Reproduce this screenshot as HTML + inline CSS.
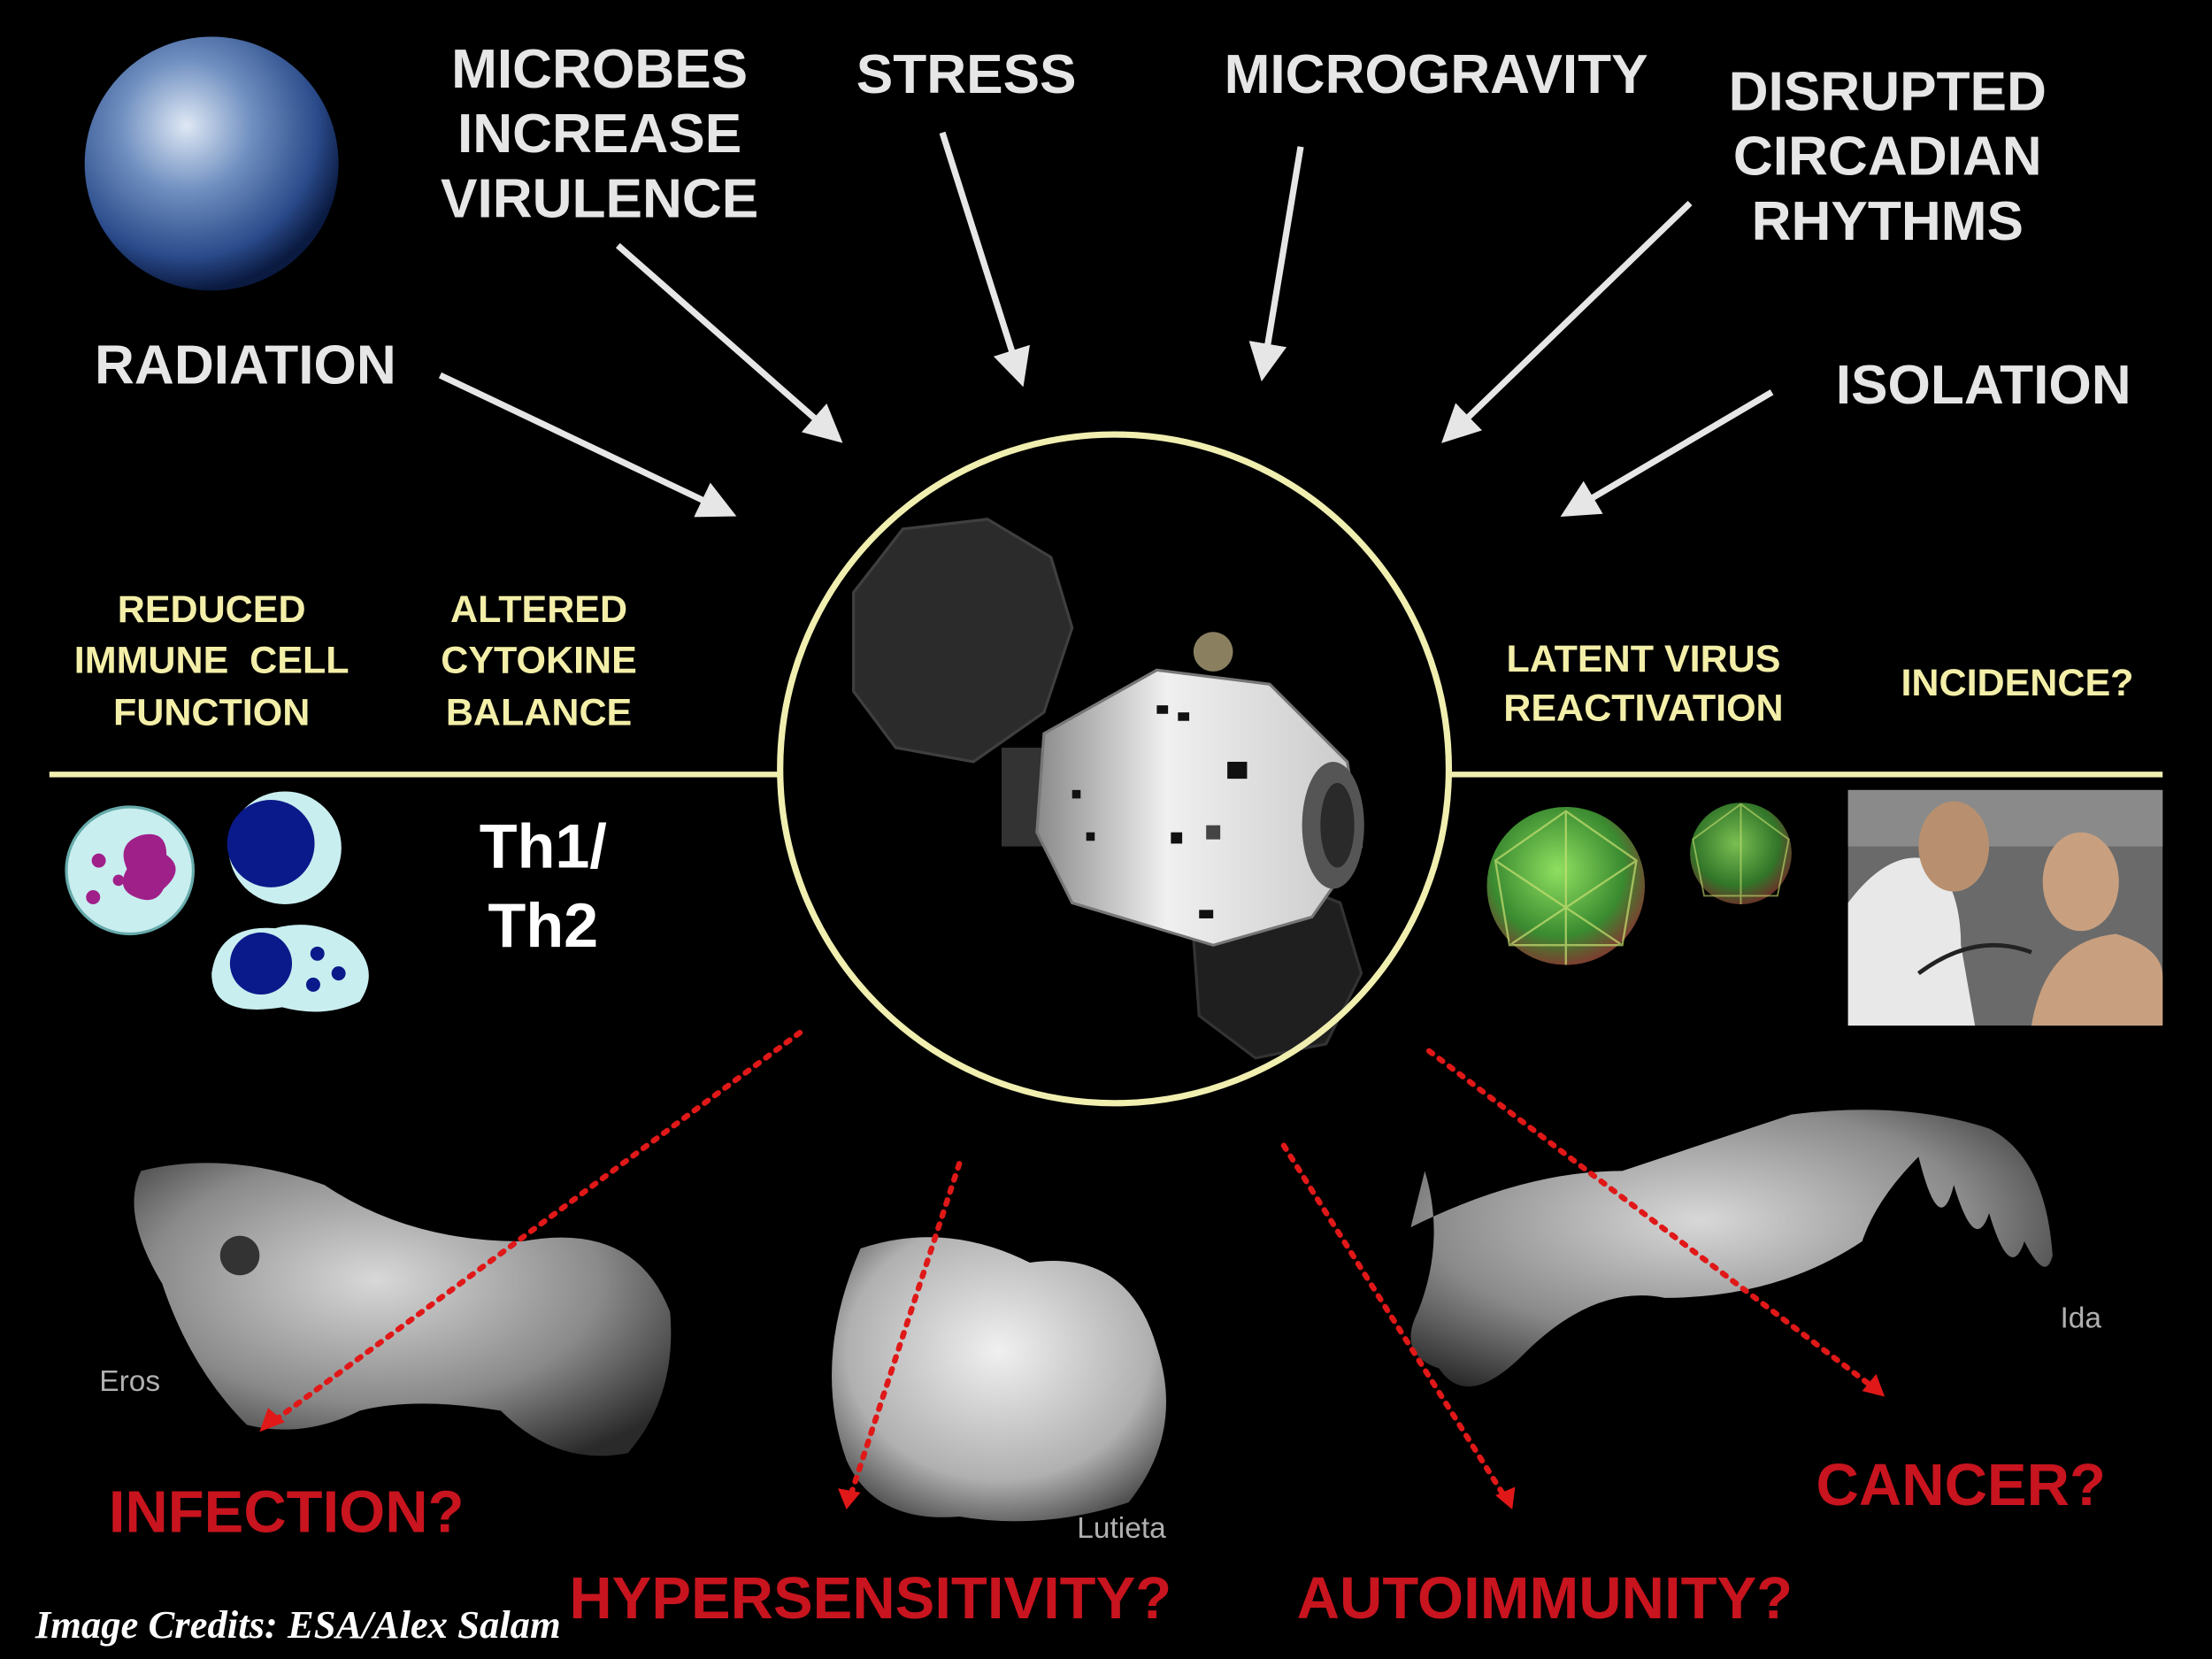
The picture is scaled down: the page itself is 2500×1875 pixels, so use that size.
<!DOCTYPE html>
<html><head><meta charset="utf-8">
<style>
html,body{margin:0;padding:0;background:#000;}
svg{display:block;}
.w{font-family:"Liberation Sans",sans-serif;font-weight:bold;fill:#e6e6e6;font-size:39px;text-anchor:middle;}
.y{font-family:"Liberation Sans",sans-serif;font-weight:bold;fill:#f4efa8;font-size:27px;text-anchor:middle;}
.r{font-family:"Liberation Sans",sans-serif;font-weight:bold;fill:#c8141e;font-size:42px;text-anchor:middle;}
.g{font-family:"Liberation Sans",sans-serif;fill:#b0b0b0;font-size:21px;text-anchor:middle;}
</style></head>
<body>
<svg width="2500" height="1875" viewBox="0 0 1568 1176" xmlns="http://www.w3.org/2000/svg">
<defs>
<radialGradient id="earth" cx="40%" cy="35%" r="65%">
<stop offset="0" stop-color="#dfe8f5"/><stop offset="0.4" stop-color="#6f8fc0"/><stop offset="0.8" stop-color="#2a4a8a"/><stop offset="1" stop-color="#0a1a40"/>
</radialGradient>
<radialGradient id="ast" cx="45%" cy="40%" r="70%">
<stop offset="0" stop-color="#d8d8d8"/><stop offset="0.6" stop-color="#8a8a8a"/><stop offset="1" stop-color="#2a2a2a"/>
</radialGradient>
<radialGradient id="ast2" cx="50%" cy="40%" r="65%">
<stop offset="0" stop-color="#f0f0f0"/><stop offset="0.7" stop-color="#b0b0b0"/><stop offset="1" stop-color="#505050"/>
</radialGradient>
<radialGradient id="vir" cx="45%" cy="40%" r="60%">
<stop offset="0" stop-color="#8fe060"/><stop offset="0.7" stop-color="#3a8a30"/><stop offset="1" stop-color="#7a4030"/>
</radialGradient>
<linearGradient id="ship" x1="0" y1="0" x2="1" y2="0">
<stop offset="0" stop-color="#8a8a8a"/><stop offset="0.4" stop-color="#f0f0f0"/><stop offset="1" stop-color="#c8c8c8"/>
</linearGradient>
<marker id="wa" markerWidth="6" markerHeight="6" refX="5" refY="3" orient="auto" markerUnits="strokeWidth">
<path d="M0,0 L6,3 L0,6 z" fill="#e6e6e6"/></marker>
</defs>
<rect width="1568" height="1176" fill="#000"/>

<circle cx="150" cy="116" r="90" fill="url(#earth)"/>

<text class="w" x="425" y="62">MICROBES</text>
<text class="w" x="425" y="108">INCREASE</text>
<text class="w" x="425" y="154">VIRULENCE</text>
<text class="w" x="685" y="66">STRESS</text>
<text class="w" x="1018" y="66">MICROGRAVITY</text>
<text class="w" x="1338" y="78">DISRUPTED</text>
<text class="w" x="1338" y="124">CIRCADIAN</text>
<text class="w" x="1338" y="170">RHYTHMS</text>
<text class="w" x="174" y="272">RADIATION</text>
<text class="w" x="1406" y="286">ISOLATION</text>

<g stroke="#e6e6e6" stroke-width="4.5" fill="none" marker-end="url(#wa)">
<line x1="312" y1="266" x2="518" y2="364"/>
<line x1="438" y1="174" x2="594" y2="311"/>
<line x1="668" y1="94" x2="724" y2="270"/>
<line x1="922" y1="104" x2="895" y2="266"/>
<line x1="1198" y1="144" x2="1025" y2="311"/>
<line x1="1256" y1="278" x2="1110" y2="364"/>
</g>

<line x1="35" y1="549" x2="553" y2="549" stroke="#f0efb0" stroke-width="4"/>
<line x1="1027" y1="549" x2="1533" y2="549" stroke="#f0efb0" stroke-width="4"/>

<g>
<polygon points="605,420 640,375 700,368 745,395 760,445 740,505 690,540 635,530 605,490" fill="#3a3a3a" stroke="#555" stroke-width="2" opacity="0.75"/>
<polygon points="845,650 900,620 950,640 965,690 940,740 890,750 850,720" fill="#2a2a2a" stroke="#444" stroke-width="2" opacity="0.75"/>
<ellipse cx="860" cy="462" rx="14" ry="14" fill="#8a8060"/>
<rect x="710" y="530" width="40" height="70" fill="#333"/>
<path d="M740,520 L820,475 L900,485 L955,540 L965,600 L930,650 L860,670 L760,640 L735,590 Z" fill="url(#ship)" stroke="#777" stroke-width="2"/>
<ellipse cx="945" cy="585" rx="22" ry="45" fill="#555"/>
<ellipse cx="948" cy="585" rx="12" ry="30" fill="#2a2a2a"/>
<g fill="#111"><rect x="820" y="500" width="8" height="6"/><rect x="835" y="505" width="8" height="6"/><rect x="870" y="540" width="14" height="12"/><rect x="830" y="590" width="8" height="8"/><rect x="850" y="645" width="10" height="6"/><rect x="760" y="560" width="6" height="6"/><rect x="770" y="590" width="6" height="6"/><rect x="855" y="585" width="10" height="10" fill="#444"/></g>
</g>
<circle cx="790" cy="545" r="237" fill="none" stroke="#f0efb0" stroke-width="4.5"/>

<text class="y" x="150" y="441">REDUCED</text>
<text class="y" x="150" y="477" xml:space="preserve">IMMUNE  CELL</text>
<text class="y" x="150" y="514">FUNCTION</text>
<text class="y" x="382" y="441">ALTERED</text>
<text class="y" x="382" y="477">CYTOKINE</text>
<text class="y" x="382" y="514">BALANCE</text>
<text class="y" x="1165" y="476">LATENT VIRUS</text>
<text class="y" x="1165" y="511">REACTIVATION</text>
<text class="y" x="1430" y="493">INCIDENCE?</text>

<text class="w" x="385" y="615" style="font-size:44px;fill:#fff">Th1/</text>
<text class="w" x="385" y="671" style="font-size:44px;fill:#fff">Th2</text>

<circle cx="92" cy="617" r="45" fill="#c9eef0" stroke="#6aa" stroke-width="2"/>
<path d="M100,592 q18,-4 18,14 q14,10 -2,24 q-6,12 -20,6 q-14,-6 -6,-20 q-8,-18 10,-24z" fill="#a0208a"/>
<circle cx="70" cy="610" r="5" fill="#a0208a"/><circle cx="66" cy="636" r="5" fill="#a0208a"/><circle cx="84" cy="624" r="4" fill="#a0208a"/>
<circle cx="202" cy="601" r="40" fill="#c9eef0"/>
<circle cx="192" cy="598" r="31" fill="#0a1a8a"/>
<path d="M150,690 q5,-35 45,-32 q30,-8 55,10 q20,20 5,42 q-25,12 -55,4 q-50,8 -50,-24z" fill="#c9eef0"/>
<circle cx="185" cy="683" r="22" fill="#0a1a8a"/>
<circle cx="225" cy="676" r="5" fill="#0a1a8a"/><circle cx="240" cy="690" r="5" fill="#0a1a8a"/><circle cx="222" cy="698" r="5" fill="#0a1a8a"/>

<circle cx="1110" cy="628" r="56" fill="url(#vir)"/>
<g stroke="#c8e070" stroke-width="1.5" fill="none" opacity="0.7">
<path d="M1060,610 L1110,575 L1160,610 L1150,670 L1070,670 Z M1110,575 L1110,684 M1060,610 L1150,670 M1160,610 L1070,670"/></g>
<circle cx="1234" cy="605" r="36" fill="url(#vir)" opacity="0.85"/>
<g stroke="#c8e070" stroke-width="1.2" fill="none" opacity="0.6">
<path d="M1200,595 L1234,570 L1268,595 L1260,635 L1208,635 Z M1234,570 L1234,641"/></g>

<rect x="1310" y="560" width="223" height="167" fill="#6a6a6a"/>
<rect x="1310" y="560" width="223" height="40" fill="#8a8a8a"/>
<path d="M1310,727 L1310,640 q30,-40 60,-30 q20,20 20,60 L1400,727 Z" fill="#e8e8e8"/>
<ellipse cx="1385" cy="600" rx="25" ry="32" fill="#b89070"/>
<ellipse cx="1475" cy="625" rx="27" ry="35" fill="#c8a080"/>
<path d="M1440,727 q10,-60 60,-65 q33,10 33,30 L1533,727Z" fill="#c8a080"/>
<path d="M1360,690 q40,-30 80,-15" stroke="#222" stroke-width="3" fill="none"/>

<path d="M100,830 q60,-15 130,10 q60,40 140,40 q80,-15 105,50 q5,60 -30,100 q-50,10 -90,-30 q-60,-10 -100,0 q-40,20 -80,10 q-40,-40 -60,-100 q-30,-50 -15,-80z" fill="url(#ast)"/>
<circle cx="170" cy="890" r="14" fill="#333"/>
<path d="M610,885 q60,-20 120,10 q70,-10 90,60 q20,60 -20,110 q-60,20 -120,10 q-60,5 -80,-40 q-25,-70 10,-150z" fill="url(#ast2)"/>
<path d="M1000,870 q80,-40 150,-40 q60,-20 120,-40 q80,-10 140,10 q40,20 45,90 q-5,20 -20,-10 q-10,30 -25,-20 q-10,30 -25,-20 q-10,40 -25,-20 q-30,30 -40,60 q-60,40 -140,40 q-50,-10 -100,40 q-40,40 -60,10 q-30,-10 -15,-40 q20,-50 5,-100z" fill="url(#ast)"/>

<text class="g" x="92" y="986">Eros</text>
<text class="g" x="795" y="1090">Lutieta</text>
<text class="g" x="1475" y="941">Ida</text>

<g stroke="#e01818" stroke-width="4" stroke-dasharray="3,6" stroke-linecap="round" fill="none">
<line x1="567" y1="732" x2="196" y2="1006"/>
<line x1="680" y1="825" x2="603" y2="1060"/>
<line x1="910" y1="812" x2="1066" y2="1060"/>
<line x1="1013" y1="745" x2="1326" y2="982"/>
</g>
<g fill="#e01818">
<polygon points="184,1015 190,998 202,1008"/>
<polygon points="600,1070 594,1055 610,1058"/>
<polygon points="1072,1070 1060,1060 1074,1054"/>
<polygon points="1336,990 1320,986 1330,974"/>
</g>

<text class="r" x="203" y="1086">INFECTION?</text>
<text class="r" x="617" y="1147">HYPERSENSITIVITY?</text>
<text class="r" x="1095" y="1147">AUTOIMMUNITY?</text>
<text class="r" x="1390" y="1067">CANCER?</text>

<text x="25" y="1161" style="font-family:'Liberation Serif',serif;font-style:italic;font-weight:bold;font-size:28px;fill:#fff">Image Credits: ESA/Alex Salam</text>
</svg>
</body></html>
